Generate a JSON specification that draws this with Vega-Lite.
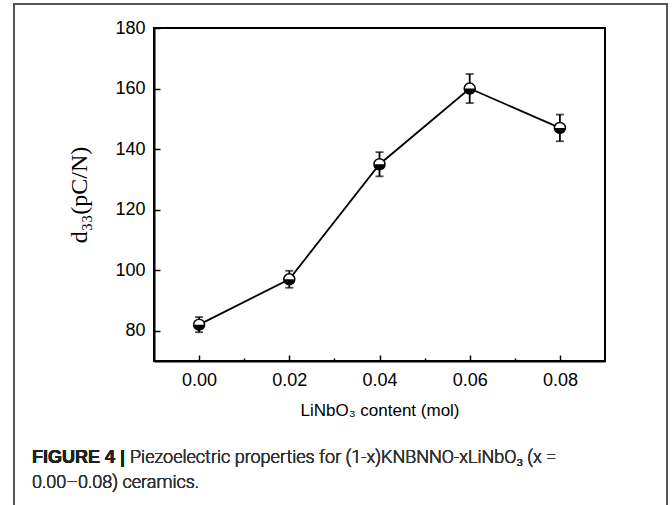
{
  "$schema": "https://vega.github.io/schema/vega-lite/v6.json",
  "width": 451,
  "height": 333,
  "autosize": {"type": "none"},
  "padding": {"left": 154, "top": 28, "right": 67, "bottom": 144},
  "background": "white",
  "config": {
    "view": {"stroke": "black", "strokeWidth": 2},
    "axis": {
      "grid": false,
      "domainColor": "black",
      "domainWidth": 2,
      "tickColor": "black",
      "tickWidth": 1.5,
      "labelColor": "black",
      "titleColor": "black",
      "labelFont": "Liberation Sans",
      "labelFontSize": 18
    }
  },
  "data": {
    "values": [
      {"x": 0.00, "d33": 82, "lo": 79.5, "hi": 84.5},
      {"x": 0.02, "d33": 97, "lo": 94.2, "hi": 99.8},
      {"x": 0.04, "d33": 135, "lo": 131, "hi": 139},
      {"x": 0.06, "d33": 160, "lo": 155.2, "hi": 164.8},
      {"x": 0.08, "d33": 147, "lo": 142.6, "hi": 151.4}
    ]
  },
  "layer": [
    {
      "mark": {"type": "rect", "fill": null, "stroke": "#555555", "strokeWidth": 1.5, "clip": false},
      "encoding": {
        "x": {"datum": -0.04104, "type": "quantitative", "scale": {"domain": [-0.01, 0.09], "nice": false, "zero": false}},
        "x2": {"datum": 0.10375},
        "y": {"datum": 187.9, "type": "quantitative", "scale": {"domain": [70, 180], "nice": false, "zero": false}},
        "y2": {"datum": 17.5}
      }
    },
    {
      "mark": {"type": "line", "color": "black", "strokeWidth": 1.8},
      "encoding": {
        "x": {
          "field": "x", "type": "quantitative",
          "scale": {"domain": [-0.01, 0.09], "nice": false, "zero": false},
          "axis": {
            "values": [0, 0.01, 0.02, 0.03, 0.04, 0.05, 0.06, 0.07, 0.08],
            "format": ".2f",
            "labelExpr": "round(datum.value*100) % 2 === 0 ? datum.label : ''",
            "tickSize": {"condition": {"test": "round(datum.value*100) % 2 === 0", "value": -6}, "value": -3},
            "labelPadding": 16,
            "title": "LiNbO₃ content (mol)",
            "titleFont": "Liberation Sans",
            "titleFontSize": 17,
            "titleFontWeight": "normal",
            "titlePadding": 13
          }
        },
        "y": {
          "field": "d33", "type": "quantitative",
          "scale": {"domain": [70, 180], "nice": false, "zero": false},
          "axis": {
            "values": [80, 90, 100, 110, 120, 130, 140, 150, 160, 170, 180],
            "labelExpr": "datum.value % 20 === 0 ? datum.label : ''",
            "tickSize": {"condition": {"test": "datum.value % 20 === 0", "value": -6}, "value": -3},
            "labelPadding": 15,
            "title": "d₃₃(pC/N)",
            "titleFont": "Liberation Serif",
            "titleFontSize": 24,
            "titleFontWeight": "normal",
            "titlePadding": 23
          }
        }
      }
    },
    {
      "mark": {"type": "rule", "color": "black", "strokeWidth": 1.8},
      "encoding": {
        "x": {"field": "x", "type": "quantitative"},
        "y": {"field": "lo", "type": "quantitative"},
        "y2": {"field": "hi"}
      }
    },
    {
      "mark": {"type": "tick", "color": "black", "orient": "horizontal", "size": 8, "thickness": 1.8},
      "encoding": {
        "x": {"field": "x", "type": "quantitative"},
        "y": {"field": "lo", "type": "quantitative"}
      }
    },
    {
      "mark": {"type": "tick", "color": "black", "orient": "horizontal", "size": 8, "thickness": 1.8},
      "encoding": {
        "x": {"field": "x", "type": "quantitative"},
        "y": {"field": "hi", "type": "quantitative"}
      }
    },
    {
      "mark": {"type": "point", "shape": "circle", "size": 121, "filled": true, "fill": "white", "stroke": "black", "strokeWidth": 1.5, "opacity": 1},
      "encoding": {
        "x": {"field": "x", "type": "quantitative"},
        "y": {"field": "d33", "type": "quantitative"}
      }
    },
    {
      "mark": {"type": "point", "shape": "M-1,0A1,1,0,0,0,1,0Z", "size": 121, "filled": true, "fill": "black", "strokeWidth": 0, "opacity": 1},
      "encoding": {
        "x": {"field": "x", "type": "quantitative"},
        "y": {"field": "d33", "type": "quantitative"}
      }
    },
    {
      "mark": {"type": "text", "align": "left", "baseline": "middle", "font": "Liberation Sans", "fontSize": 18, "fontWeight": "bold", "color": "#231f20", "clip": false},
      "encoding": {
        "x": {"datum": -0.03705, "type": "quantitative"},
        "y": {"datum": 37.96, "type": "quantitative"},
        "text": {"value": "FIGURE 4 |"}
      }
    },
    {
      "mark": {"type": "text", "align": "left", "baseline": "middle", "font": "Roboto", "fontSize": 18, "fontWeight": 300, "color": "#333333", "clip": false},
      "encoding": {
        "x": {"datum": -0.01532, "type": "quantitative"},
        "y": {"datum": 37.96, "type": "quantitative"},
        "text": {"value": "Piezoelectric properties for (1-x)KNBNNO-xLiNbO₃ (x ="}
      }
    },
    {
      "mark": {"type": "text", "align": "left", "baseline": "middle", "font": "Roboto", "fontSize": 18, "fontWeight": 300, "color": "#333333", "clip": false},
      "encoding": {
        "x": {"datum": -0.03705, "type": "quantitative"},
        "y": {"datum": 29.7, "type": "quantitative"},
        "text": {"value": "0.00–0.08) ceramics."}
      }
    }
  ]
}
